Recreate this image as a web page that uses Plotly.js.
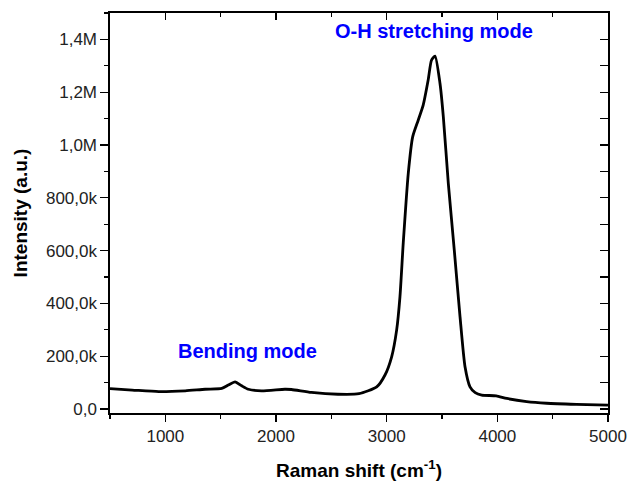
<!DOCTYPE html>
<html>
<head>
<meta charset="utf-8">
<script src="https://cdn.plot.ly/plotly-3.0.1.min.js"></script>
<style>html,body{margin:0;padding:0;background:#fff;}#chart{width:629px;height:482px;}</style>
</head>
<body>
<div id="chart"></div>
<script>
// Raman shift (cm^-1)
const ramanShift = [500, 700, 940, 1180, 1360, 1510, 1570, 1630, 1690, 1750, 1870, 2080, 2140, 2320, 2560, 2750, 2910, 2985, 3045, 3090, 3120, 3150, 3195, 3235, 3285, 3330, 3375, 3405, 3437, 3482, 3512, 3557, 3611, 3663, 3708, 3753, 3800, 3859, 3990, 4085, 4265, 4445, 4715, 5000];
// Intensity (a.u.)
const intensity = [77000, 72000, 66000, 69000, 75000, 78000, 91000, 103000, 88000, 75000, 69000, 75000, 74000, 63000, 56000, 58000, 84000, 129000, 198000, 299000, 425000, 630000, 892000, 1031000, 1094000, 1151000, 1246000, 1321000, 1337000, 1233000, 1107000, 855000, 602000, 349000, 160000, 84000, 62000, 53000, 50000, 40000, 28000, 22000, 18000, 15000];

const yTickVals = [0, 200000, 400000, 600000, 800000, 1000000, 1200000, 1400000];
const yTickText = ['0,0', '200,0k', '400,0k', '600,0k', '800,0k', '1,0M', '1,2M', '1,4M'];

const annoTexts = ['O-H stretching mode', 'Bending mode'];
const annoX = [3428, 1738];
const annoY = [1430000, 220000];

const xRange = [500, 5000];
const yRange = [-15000, 1500000];
const font = 'Liberation Sans, Arial, sans-serif';

const traces = [
  {x: ramanShift, y: intensity, type: 'scatter', mode: 'lines',
   line: {color: '#000', width: 2.8, shape: 'spline', smoothing: 0.6}, hoverinfo: 'skip'},
  {x: [xRange[0]], y: [0], xaxis: 'x2', yaxis: 'y2', type: 'scatter', mode: 'markers',
   marker: {opacity: 0}, hoverinfo: 'skip', showlegend: false}
];

const layout = {
  width: 629, height: 482,
  margin: {l: 110, r: 21, t: 13, b: 69},
  paper_bgcolor: '#fff', plot_bgcolor: '#fff',
  showlegend: false,
  font: {family: font, color: '#000', size: 17},
  xaxis: {
    range: xRange, showgrid: false, zeroline: false,
    showline: true, mirror: true, linecolor: '#000', linewidth: 1.6,
    ticks: 'outside', ticklen: 7, tickwidth: 1.3, tickcolor: '#000',
    tick0: 0, dtick: 1000,
    minor: {ticks: 'outside', ticklen: 4, tickwidth: 1.3, tickcolor: '#000', tick0: 0, dtick: 500},
    tickfont: {family: font, size: 17, color: '#222'},
    title: {text: 'Raman shift (cm<sup>-1</sup>)', font: {family: font, size: 19, color: '#000', weight: 'bold'}, standoff: 18}
  },
  yaxis: {
    range: yRange, showgrid: false, zeroline: false,
    showline: true, mirror: true, linecolor: '#000', linewidth: 1.6,
    ticks: 'outside', ticklen: 8, tickwidth: 1.3, tickcolor: '#000',
    tickmode: 'array', tickvals: yTickVals, ticktext: yTickText,
    minor: {tickmode: 'linear', ticks: 'outside', ticklen: 4, tickwidth: 1.3, tickcolor: '#000', tick0: 0, dtick: 100000},
    tickfont: {family: font, size: 17, color: '#222'},
    title: {text: 'Intensity (a.u.)', font: {family: font, size: 19, color: '#000', weight: 'bold'}, standoff: 13}
  },
  xaxis2: {
    overlaying: 'x', side: 'top', range: xRange, showgrid: false, zeroline: false, showline: false,
    ticks: 'inside', ticklen: 7, tickwidth: 1.3, tickcolor: '#000', tick0: 0, dtick: 1000,
    minor: {ticks: 'inside', ticklen: 4, tickwidth: 1.3, tickcolor: '#000', tick0: 0, dtick: 500},
    showticklabels: false
  },
  yaxis2: {
    overlaying: 'y', side: 'right', range: yRange, showgrid: false, zeroline: false, showline: false,
    ticks: 'inside', ticklen: 8, tickwidth: 1.3, tickcolor: '#000', tick0: 0, dtick: 100000,
    showticklabels: false
  },
  annotations: annoTexts.map((t, i) => ({
    text: t, x: annoX[i], y: annoY[i], xref: 'x', yref: 'y', showarrow: false,
    font: {family: font, size: 20, color: '#0000ff', weight: 'bold'}
  }))
};

Plotly.newPlot('chart', traces, layout, {staticPlot: true, displayModeBar: false});
</script>
</body>
</html>
